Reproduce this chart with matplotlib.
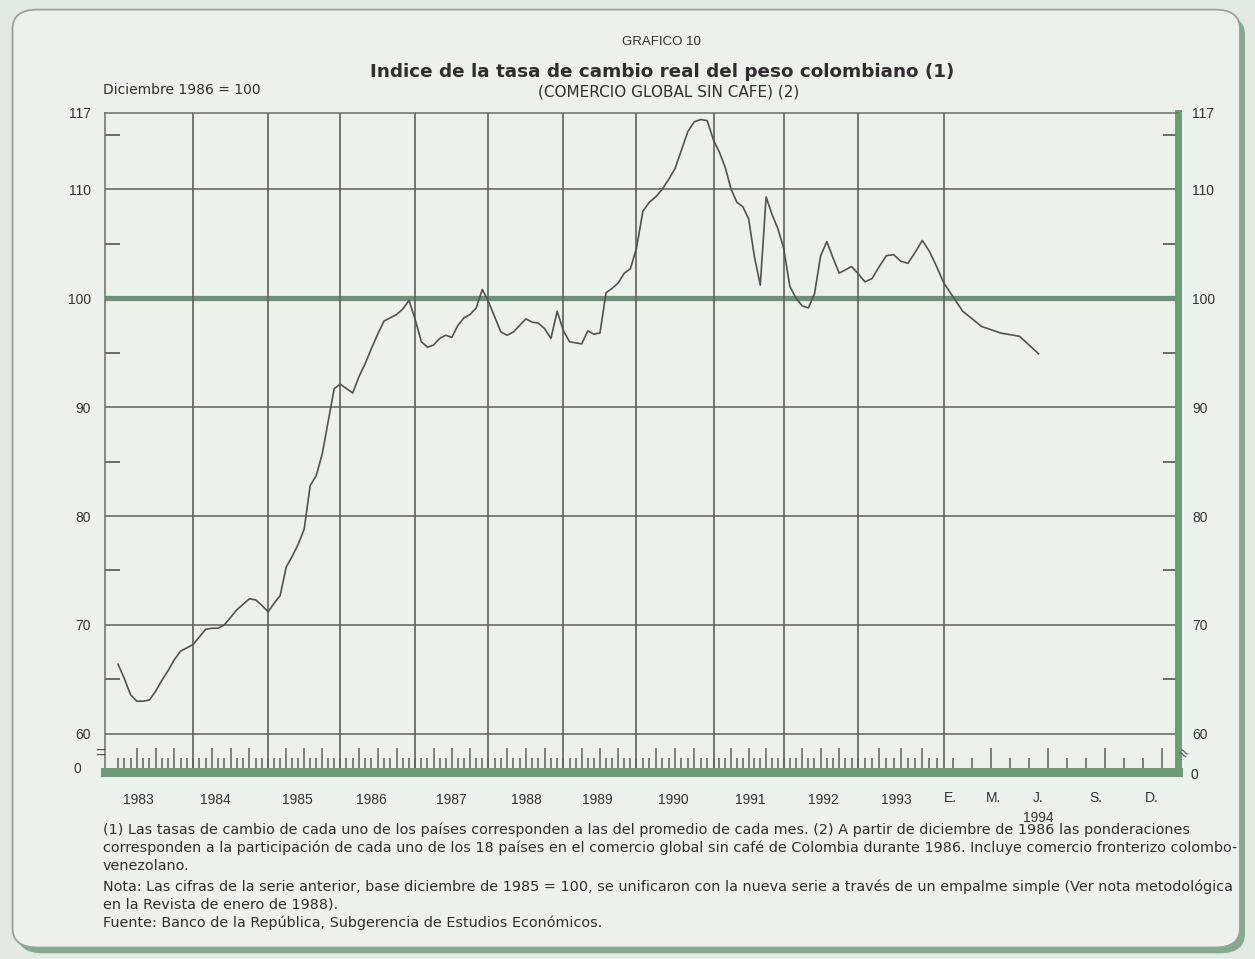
import numpy as np
import matplotlib
matplotlib.use("Agg")
import matplotlib.pyplot as plt
from matplotlib.patches import FancyBboxPatch

plt.rcParams['font.family'] = ['Liberation Sans', 'DejaVu Sans']

# ==== DATA ====
# Indice de la tasa de cambio real (diciembre 1986 = 100), valores mensuales
years = [1983, 1984, 1985, 1986, 1987, 1988, 1989, 1990, 1991, 1992, 1993, 1994]

idx_1983 = [66.4, 65.1, 63.6, 63.0, 63.0, 63.1, 63.9, 64.9, 65.8, 66.8, 67.6, 67.9]
idx_1984 = [68.2, 68.9, 69.6, 69.7, 69.7, 70.0, 70.7, 71.4, 71.9, 72.4, 72.3, 71.8]
idx_1985 = [71.2, 72.0, 72.7, 75.3, 76.3, 77.4, 78.8, 82.8, 83.7, 85.7, 88.7, 91.7]
idx_1986 = [92.1, 91.7, 91.3, 92.8, 94.0, 95.4, 96.7, 97.9, 98.2, 98.5, 99.0, 99.8]
idx_1987 = [98.0, 96.0, 95.5, 95.7, 96.3, 96.6, 96.4, 97.5, 98.2, 98.5, 99.1, 100.8]
idx_1988 = [99.7, 98.3, 96.9, 96.6, 96.9, 97.5, 98.1, 97.8, 97.7, 97.2, 96.3, 98.8]
idx_1989 = [97.0, 96.0, 95.9, 95.8, 97.0, 96.7, 96.8, 100.5, 100.9, 101.4, 102.3, 102.7]
idx_1990 = [104.6, 108.0, 108.8, 109.3, 110.0, 110.9, 111.9, 113.6, 115.3, 116.2, 116.4, 116.3]
idx_1991 = [114.5, 113.4, 112.0, 110.0, 108.8, 108.4, 107.3, 103.8, 101.2, 109.3, 107.7, 106.4]
idx_1992 = [104.6, 101.1, 100.0, 99.3, 99.1, 100.4, 103.9, 105.2, 103.7, 102.3, 102.6, 102.9]
idx_1993 = [102.3, 101.5, 101.8, 102.9, 103.9, 104.0, 103.4, 103.2, 104.2, 105.3, 104.3, 102.9]
idx_1994 = [101.4, 98.8, 97.4, 96.8, 96.5, 94.9]

series = [idx_1983, idx_1984, idx_1985, idx_1986, idx_1987, idx_1988,
          idx_1989, idx_1990, idx_1991, idx_1992, idx_1993, idx_1994]

y_labels = ["60", "70", "80", "90", "100", "110", "117"]
y_label_vals = [60, 70, 80, 90, 100, 110, 117]
year_label_pos = [1983.27, 1984.3, 1985.4, 1986.42, 1987.5, 1988.5, 1989.47,
                  1990.48, 1991.53, 1992.53, 1993.45]
month_labels_1994 = ["E.", "M.", "J.", "S.", "D."]
month_label_idx = [0.35, 2.6, 5, 8, 11]

# ==== AXIS SPACING ====
# the original time axis is hand drawn: 1983-1993 compressed, 1994 stretched by month
knot_t = [1900, 1982.83, 1983, 1984, 1985, 1986, 1987, 1988, 1989, 1990,
          1991, 1992, 1993, 1994, 1995.03, 2100]
knot_p = [105 - 82.83 * 76, 105, 118, 193, 268, 340, 415, 488, 563, 636,
          713, 783, 857, 943, 1177, 1177 + 104.97 * 228]


def fwd(t):
    return np.interp(t, knot_t, knot_p)


def inv(p):
    return np.interp(p, knot_p, knot_t)


t_vals = [y + k / 12 for y, vals in zip(years, series) for k in range(len(vals))]
v_vals = [v for vals in series for v in vals]

# ==== FIGURE ====
fig = plt.figure(figsize=(12.55, 9.59), dpi=100, facecolor="#e3e9e3")

shadow = FancyBboxPatch((0.014, 0.006), 0.978, 0.978, boxstyle="round,pad=0,rounding_size=0.02",
                        transform=fig.transFigure, fc="#86a98d", ec="none", zorder=-3)
frame = FancyBboxPatch((0.010, 0.012), 0.978, 0.978, boxstyle="round,pad=0,rounding_size=0.02",
                       transform=fig.transFigure, fc="#edf1ec", ec="#98a39a", lw=1.3, zorder=-2)
fig.add_artist(shadow)
fig.add_artist(frame)

ax = fig.add_axes([105 / 1255, 1 - 772 / 959, (1178 - 105) / 1255, (772 - 113) / 959])
ax.set_facecolor("none")
ax.set_xscale("function", functions=(fwd, inv))
ax.set_xlim(1982.83, 1995.03)
ax.set_ylim(56.5, 117)

grid_c = "#5b615b"
for g in [60, 70, 80, 90, 110]:
    ax.axhline(g, color=grid_c, lw=1.1, zorder=1)
ax.axhline(100, color="#6f8f78", lw=3.8, zorder=1)
for yr in range(1984, 1995):
    ax.axvline(yr, color=grid_c, lw=1.2, zorder=1)

ax.plot(t_vals, v_vals, color="#525252", lw=1.2, zorder=3)

# spines
for s in ["left", "top"]:
    ax.spines[s].set_color("#6a6f6a")
    ax.spines[s].set_linewidth(1.1)
ax.spines["right"].set_color("#6f9a77")
ax.spines["right"].set_linewidth(5)
ax.spines["bottom"].set_color("#6f9a77")
ax.spines["bottom"].set_linewidth(6.5)

# y ticks: labels on both sides, inner half-decade marks
ax.set_yticks(y_label_vals)
ax.set_yticklabels(y_labels)
ax.set_yticks([65, 75, 85, 95, 105, 115], minor=True)
ax.tick_params(axis="y", which="major", length=0, labelleft=True, labelright=True,
               pad=10, labelsize=10, labelcolor="#333333")
ax.tick_params(axis="y", which="minor", direction="in", left=True, right=True,
               length=11, width=1.3, color=grid_c)

# x ticks: monthly strip along the bottom
minor_t = [y + k / 12 for y in range(1983, 1994) for k in range(12)]
minor_t += [1994 + (k + 0.5) / 12 for k in range(12)]
major_t = [y + k / 12 for y in range(1983, 1994) for k in (3, 6, 9)]
major_t += [1994 + (k + 0.5) / 12 for k in (2, 5, 8, 11)]
ax.set_xticks(major_t)
ax.set_xticks(minor_t, minor=True)
ax.tick_params(axis="x", which="both", direction="in", bottom=True, top=False,
               labelbottom=False, color=grid_c, width=1.1)
ax.tick_params(axis="x", which="major", length=17)
ax.tick_params(axis="x", which="minor", length=10)

xt = ax.get_xaxis_transform()
for yr, xp in zip(years[:-1], year_label_pos):
    ax.text(xp, -0.043, str(yr), transform=xt, ha="center", va="center",
            fontsize=10, color="#333333")
for lab, k in zip(month_labels_1994, month_label_idx):
    ax.text(1994 + k / 12, -0.040, lab, transform=xt, ha="center", va="center",
            fontsize=10, color="#333333")
ax.text(1994 + 5 / 12, -0.070, "1994", transform=xt, ha="center", va="center",
        fontsize=10, color="#333333")

# broken axis: 0 at the bottom
ax.text(-0.022, 0.005, "0", transform=ax.transAxes, ha="right", va="center",
        fontsize=10, color="#333333")
ax.text(1.012, -0.004, "0", transform=ax.transAxes, ha="left", va="center",
        fontsize=10, color="#333333")
ax.text(-0.004, 0.028, "=", transform=ax.transAxes, ha="center", va="center",
        fontsize=13, color="#4f554f")
ax.text(1.004, 0.028, "\u2248", transform=ax.transAxes, ha="center", va="center",
        fontsize=12, color="#4f554f", rotation=-30)

# ==== TEXTS ====
tc = "#2e2e2e"
dv = ["DejaVu Sans"]
fig.text(661 / 1255, 1 - 42 / 959, "GRAFICO 10", ha="center", va="center", fontsize=9.5, color=tc)
fig.text(662 / 1255, 1 - 72 / 959, "Indice de la tasa de cambio real del peso colombiano (1)",
         ha="center", va="center", fontsize=13.2, fontweight="bold", color=tc, family=dv)
fig.text(669 / 1255, 1 - 92 / 959, "(COMERCIO GLOBAL SIN CAFE) (2)",
         ha="center", va="center", fontsize=11, color=tc, family=dv)
fig.text(103 / 1255, 1 - 90 / 959, "Diciembre 1986 = 100", ha="left", va="center",
         fontsize=10, color=tc, family=dv)

notes = [
    "(1) Las tasas de cambio de cada uno de los países corresponden a las del promedio de cada mes. (2) A partir de diciembre de 1986 las ponderaciones",
    "corresponden a la participación de cada uno de los 18 países en el comercio global sin café de Colombia durante 1986. Incluye comercio fronterizo colombo-",
    "venezolano.",
    "Nota: Las cifras de la serie anterior, base diciembre de 1985 = 100, se unificaron con la nueva serie a través de un empalme simple (Ver nota metodológica",
    "en la Revista de enero de 1988).",
    "Fuente: Banco de la República, Subgerencia de Estudios Económicos.",
]
note_y = [830, 848, 866, 887, 905, 923]
for line, yy in zip(notes, note_y):
    fig.text(103 / 1255, 1 - yy / 959, line, ha="left", va="center", fontsize=10.4,
             color=tc, family=dv)

fig.savefig("out.png", dpi=100, facecolor=fig.get_facecolor())
